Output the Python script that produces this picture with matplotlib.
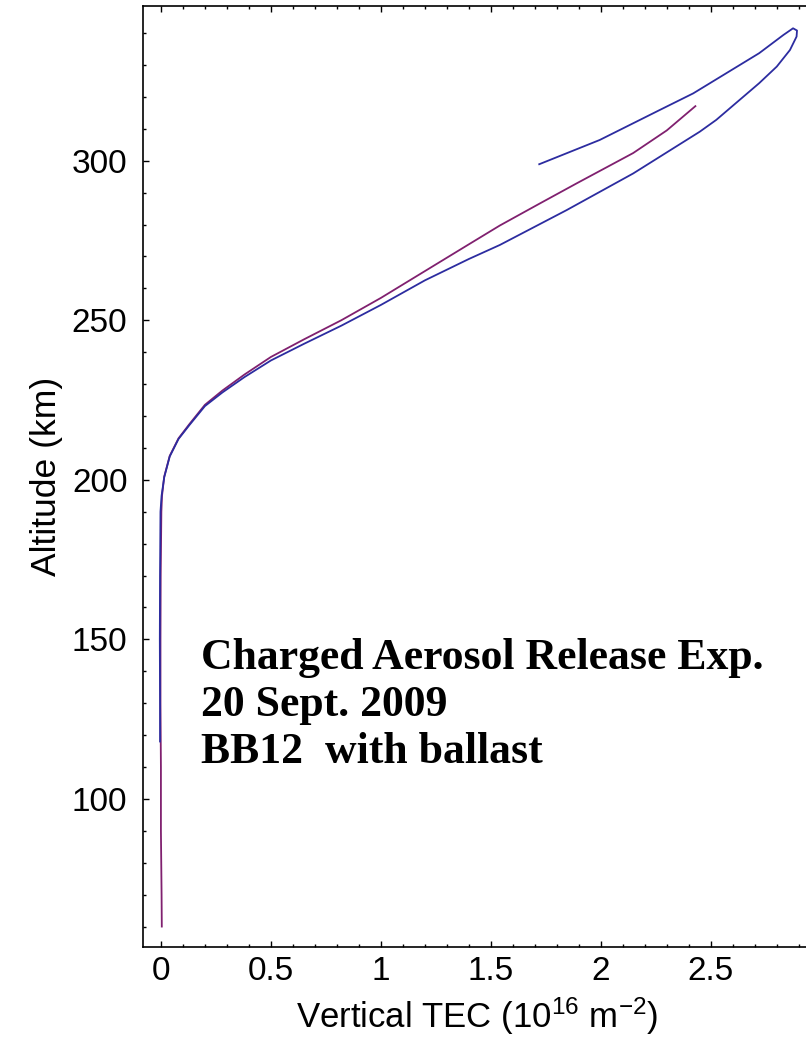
import matplotlib
matplotlib.use("Agg")
import matplotlib.pyplot as plt
from matplotlib.ticker import FixedLocator, MultipleLocator, FixedFormatter

plt.rcParams['font.family'] = ['Liberation Sans', 'DejaVu Sans']
plt.rcParams['mathtext.fontset'] = 'custom'
plt.rcParams['mathtext.rm'] = 'Liberation Sans'
plt.rcParams['mathtext.it'] = 'Liberation Sans:italic'

# up-leg (purple)
purple_alt = [60, 70, 90, 110, 130, 150, 170, 190, 195, 201, 207.5, 213, 217.5, 223.5, 228,
              233, 238.5, 244, 250, 257, 265.4, 273.8, 279.7, 286.5, 292.9, 302.4, 309.5, 317.1]
purple_tec = [0.004, 0.003, 0.0, 0.0, -0.002, -0.002, -0.001, 0.002, 0.005, 0.015, 0.04, 0.08,
              0.13, 0.20, 0.28, 0.38, 0.50, 0.65, 0.82, 1.0, 1.2, 1.4, 1.541, 1.72, 1.89, 2.147,
              2.30, 2.43]

# blue track, up to the apex and back
blue_alt = [118, 130, 150, 170, 190, 195, 200.8, 207.3, 212.8, 217.2, 223.1, 227.4, 232.2,
            237.4, 242.6, 248.3, 254.8, 262.5, 269.2, 273.6, 284.5, 296, 309.1, 312.8, 324.3,
            329.5, 334.7, 338.9, 340.8, 341.5, 339.4, 333.7, 327.4, 321.1, 315.9, 306.5, 298.9]
blue_tec = [-0.004, -0.004, -0.005, -0.004, -0.002, 0.003, 0.015, 0.04, 0.08, 0.13, 0.20, 0.28,
            0.38, 0.50, 0.65, 0.82, 1.0, 1.2, 1.4, 1.541, 1.844, 2.147, 2.45, 2.525, 2.72, 2.80,
            2.86, 2.89, 2.892, 2.874, 2.83, 2.72, 2.57, 2.42, 2.268, 1.995, 1.72]

xticks = [0, 0.5, 1, 1.5, 2, 2.5]
xticklabels = ["0", "0.5", "1", "1.5", "2", "2.5"]
yticks = [100, 150, 200, 250, 300]

notes = ["Charged Aerosol Release Exp.", "20 Sept. 2009", "BB12  with ballast"]
note_alt = [140.7, 125.9, 111.2]

fig = plt.figure(figsize=(8.06, 10.45), dpi=100)
ax = fig.add_axes([0.177, 0.0941, 0.8304, 0.9002])

ax.plot(purple_tec, purple_alt, color='#80206f', lw=1.3)
ax.plot(blue_tec, blue_alt, color='#2c2ca0', lw=1.3)

ax.set_xlim(-0.083, 2.96)
ax.set_ylim(53.7, 348.5)

ax.xaxis.set_major_locator(FixedLocator(xticks))
ax.xaxis.set_major_formatter(FixedFormatter(xticklabels))
ax.xaxis.set_minor_locator(MultipleLocator(0.1))
ax.yaxis.set_major_locator(FixedLocator(yticks))
ax.yaxis.set_minor_locator(MultipleLocator(10))

ax.tick_params(which='both', direction='in', top=True, right=True, width=1, colors='black')
ax.tick_params(which='major', length=4.5, labelsize=24)
ax.tick_params(axis='x', which='major', pad=7)
ax.tick_params(axis='y', which='major', pad=11)
ax.tick_params(which='minor', length=2.5)
for s in ax.spines.values():
    s.set_linewidth(1.2)

for txt, a in zip(notes, note_alt):
    ax.text(0.18, a, txt, family='Liberation Serif', fontweight='bold', fontsize=31.5,
            va='baseline', ha='left')

fig.text(47 / 806, 1 - 476 / 1045, "Altitude (km)", rotation=90, ha='center', va='center',
         fontsize=25.5)
fig.text(477 / 806, 1 - 1028 / 1045, r"Vertical TEC (10$^{16}$ m$^{-2}$)", ha='center',
         va='baseline', fontsize=25)

fig.savefig("out.png", dpi=100)
